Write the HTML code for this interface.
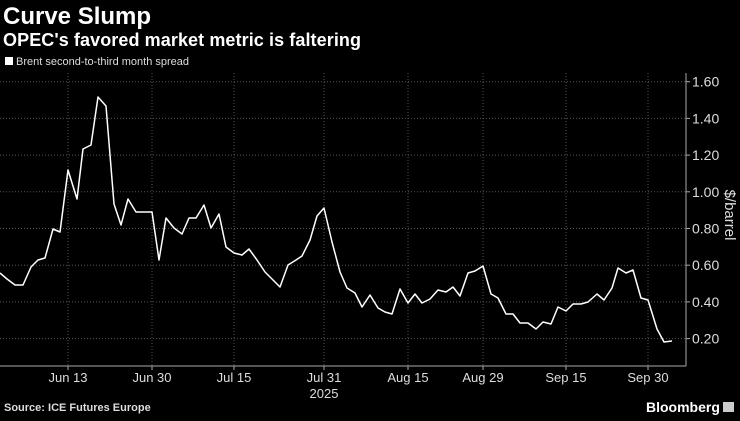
<!DOCTYPE html>
<html><head><style>
body{margin:0;width:740px;height:416px;background:#000;overflow:hidden;font-family:"Liberation Sans",sans-serif;color:#fff}
</style></head><body>
<svg width="740" height="416" xmlns="http://www.w3.org/2000/svg" font-family="Liberation Sans, sans-serif">
<rect width="740" height="416" fill="#000"/>
<text x="3" y="24" font-size="24" font-weight="bold" fill="#fff">Curve Slump</text>
<text x="3" y="46" font-size="18" font-weight="bold" fill="#fff" textLength="358">OPEC's favored market metric is faltering</text>
<rect x="5" y="57" width="8" height="8" fill="#fff"/>
<text x="16" y="65" font-size="11" fill="#ddd">Brent second-to-third month spread</text>
<g stroke="#555" stroke-dasharray="1,2" stroke-width="1">
<line x1="0" x2="686" y1="81.7" y2="81.7"/><line x1="0" x2="686" y1="118.4" y2="118.4"/><line x1="0" x2="686" y1="155.1" y2="155.1"/><line x1="0" x2="686" y1="191.8" y2="191.8"/><line x1="0" x2="686" y1="228.5" y2="228.5"/><line x1="0" x2="686" y1="265.2" y2="265.2"/><line x1="0" x2="686" y1="301.9" y2="301.9"/><line x1="0" x2="686" y1="338.6" y2="338.6"/>
<line x1="68" x2="68" y1="73" y2="366"/><line x1="152" x2="152" y1="73" y2="366"/><line x1="234" x2="234" y1="73" y2="366"/><line x1="324" x2="324" y1="73" y2="366"/><line x1="408" x2="408" y1="73" y2="366"/><line x1="483" x2="483" y1="73" y2="366"/><line x1="566" x2="566" y1="73" y2="366"/><line x1="648" x2="648" y1="73" y2="366"/>
</g>
<g stroke="#aaa" stroke-width="1">
<line x1="686" x2="686" y1="73" y2="366"/><line x1="0" x2="686" y1="366" y2="366"/>
<line x1="686" x2="690" y1="81.7" y2="81.7"/><line x1="686" x2="690" y1="118.4" y2="118.4"/><line x1="686" x2="690" y1="155.1" y2="155.1"/><line x1="686" x2="690" y1="191.8" y2="191.8"/><line x1="686" x2="690" y1="228.5" y2="228.5"/><line x1="686" x2="690" y1="265.2" y2="265.2"/><line x1="686" x2="690" y1="301.9" y2="301.9"/><line x1="686" x2="690" y1="338.6" y2="338.6"/>
<line x1="68" x2="68" y1="366" y2="370"/><line x1="152" x2="152" y1="366" y2="370"/><line x1="234" x2="234" y1="366" y2="370"/><line x1="324" x2="324" y1="366" y2="370"/><line x1="408" x2="408" y1="366" y2="370"/><line x1="483" x2="483" y1="366" y2="370"/><line x1="566" x2="566" y1="366" y2="370"/><line x1="648" x2="648" y1="366" y2="370"/>
</g>
<g font-size="14" fill="#ddd">
<text x="692" y="86.7">1.60</text><text x="692" y="123.4">1.40</text><text x="692" y="160.1">1.20</text><text x="692" y="196.8">1.00</text><text x="692" y="233.5">0.80</text><text x="692" y="270.2">0.60</text><text x="692" y="306.9">0.40</text><text x="692" y="343.6">0.20</text>
</g>
<text transform="translate(725,215) rotate(90)" text-anchor="middle" font-size="15" fill="#ddd">$/barrel</text>
<g font-size="13" fill="#ddd" text-anchor="middle">
<text x="68" y="382">Jun 13</text><text x="152" y="382">Jun 30</text><text x="234" y="382">Jul 15</text><text x="324" y="382">Jul 31</text><text x="408" y="382">Aug 15</text><text x="483" y="382">Aug 29</text><text x="566" y="382">Sep 15</text><text x="648" y="382">Sep 30</text>
<text x="324" y="398">2025</text>
</g>
<polyline fill="none" stroke="#fff" stroke-width="1.5" stroke-linejoin="round" points="0,273 7,279 15,285 23,285 31,267 38,260 45,258 53,229 60,232 68,170 77,199 83,149 91,145 98,97 106,106 114,204 121,225 128,199 136,212 152,212 159,260 166,218 174,228 182,234 189,218 196,218 204,205 211,228 219,214 226,247 234,253 242,255 249,249 257,260 265,272 280,287 288,265 296,260 302,256 310,240 317,216 324,208 332,242 340,272 347,288 355,293 362,307 370,295 378,308 385,312 392,314 400,289 408,303 415,294 422,303 430,299 438,290 446,292 453,287 460,296 468,273 475,271 483,266 491,294 498,298 506,314 513,314 520,323 528,323 536,329 543,322 551,324 558,307 566,311 573,304 581,304 588,302 597,294 604,300 612,288 618,268 626,273 633,270 641,298 648,300 657,329 664,342 672,341"/>
<text x="4" y="411" font-size="11" font-weight="bold" fill="#ddd">Source: ICE Futures Europe</text>
<text x="646" y="412" font-size="14" font-weight="bold" fill="#fff">Bloomberg</text>
<rect x="723" y="402" width="11" height="10" fill="#ccc"/>
</svg>
</body></html>
